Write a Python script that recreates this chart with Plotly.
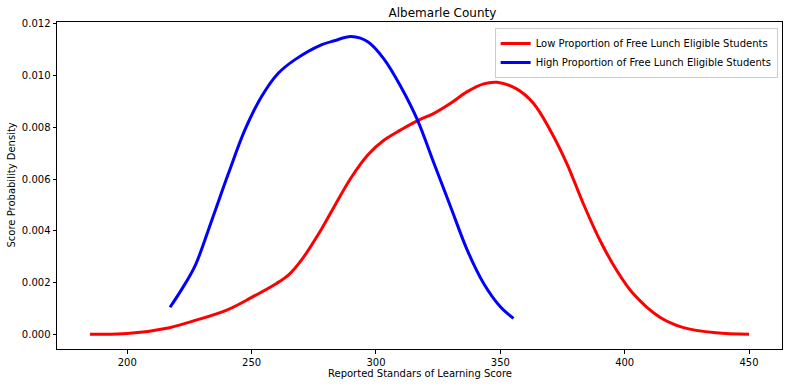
import plotly.graph_objects as go

# Low proportion of free lunch eligible students (density curve samples)
low_x = [185, 200, 217, 227.3, 240, 250, 260, 265, 270, 278, 283.3, 290, 296.7, 303.3,
         310, 316.7, 323.3, 330, 336.7, 343.3, 348.7, 356.7, 363.3, 370, 376.7, 383.3,
         390, 396.7, 403.3, 414, 423.3, 436.7, 450]
low_y = [0.0, 0.00002, 0.00025, 0.00053, 0.00093, 0.00142, 0.00196, 0.0023, 0.00286,
         0.00405, 0.00495, 0.00605, 0.00693, 0.00751, 0.0079, 0.00826, 0.00854, 0.00893,
         0.00938, 0.00968, 0.00974, 0.00948, 0.00893, 0.0079, 0.00661, 0.00506, 0.00364,
         0.00248, 0.00158, 0.00066, 0.00026, 0.00005, 0.0]

# High proportion of free lunch eligible students
high_x = [217.2, 222, 227.3, 234, 240.7, 247.3, 254, 260.7, 267.3, 278, 283.3, 290,
          296.7, 303.3, 310, 316.7, 323.3, 330, 336.7, 343.3, 350, 355.3]
high_y = [0.00104, 0.00175, 0.00265, 0.00441, 0.00622, 0.0079, 0.00919, 0.01009, 0.01061,
          0.01119, 0.01135, 0.01151, 0.01131, 0.01063, 0.00957, 0.00828, 0.00661, 0.00493,
          0.00325, 0.00196, 0.00106, 0.00061]

x_ticks = [200, 250, 300, 350, 400, 450]
y_ticks = [0.000, 0.002, 0.004, 0.006, 0.008, 0.010, 0.012]

FONT = "DejaVu Sans"
W, H = 789, 387
L, R, T, B = 57, 7, 22, 38

fig = go.Figure()
fig.add_trace(go.Scatter(x=low_x, y=low_y, mode="lines",
                         line=dict(color="#ff0000", width=3, shape="spline", smoothing=1.0),
                         name="Low Proportion of Free Lunch Eligible Students"))
fig.add_trace(go.Scatter(x=high_x, y=high_y, mode="lines",
                         line=dict(color="#0000ff", width=3, shape="spline", smoothing=1.0),
                         name="High Proportion of Free Lunch Eligible Students"))

axis_common = dict(showline=True, linecolor="black", linewidth=1, mirror=True,
                   ticks="outside", ticklen=3.5, tickcolor="black", tickwidth=1,
                   showgrid=False, zeroline=False, automargin=False,
                   tickfont=dict(family=FONT, size=10, color="black"))

fig.update_layout(
    width=W, height=H,
    margin=dict(l=L, r=R, t=T, b=B, autoexpand=False),
    paper_bgcolor="white", plot_bgcolor="white",
    font=dict(family=FONT, size=10, color="black"),
    title=dict(text="Albemarle County", x=(L + W - R) / 2 / W, xanchor="center",
               xref="paper", y=1 - 13 / H, yanchor="middle",
               font=dict(family=FONT, size=12, color="black")),
    xaxis=dict(range=[171.75, 463.25], tickvals=x_ticks, **axis_common),
    yaxis=dict(range=[-0.000575, 0.012075], tickvals=y_ticks, tickformat=".3f",
               **axis_common),
    legend=dict(x=0.994, y=0.982, xanchor="right", yanchor="top",
                bgcolor="rgba(255,255,255,0.8)", bordercolor="#cccccc", borderwidth=1,
                font=dict(family=FONT, size=10), tracegroupgap=0,
                itemwidth=30),
    showlegend=True,
    annotations=[
        dict(text="Reported Standars of Learning Score", xref="paper", yref="paper",
             x=0.5, y=-(374 - (H - B)) / (H - T - B), xanchor="center", yanchor="middle",
             showarrow=False, font=dict(family=FONT, size=10, color="black")),
        dict(text="Score Probability Density", xref="paper", yref="paper",
             x=-(L - 11) / (W - L - R), y=0.5, xanchor="center", yanchor="middle",
             textangle=-90, showarrow=False,
             font=dict(family=FONT, size=10, color="black")),
    ],
)

fig.write_html("out.html",
               config={"displayModeBar": False},
               post_script="document.body.style.margin='0';document.body.style.overflow='hidden';")
